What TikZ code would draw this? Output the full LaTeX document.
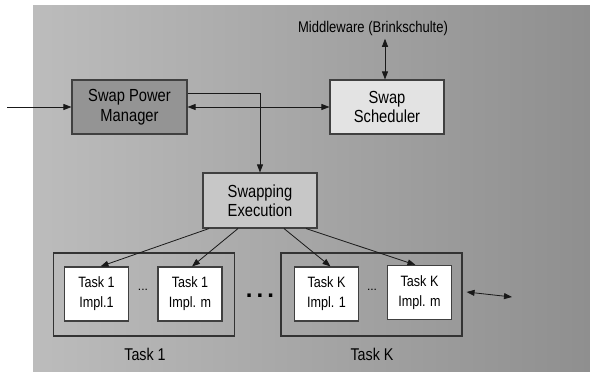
\documentclass[tikz,border=0pt]{standalone}
\usepackage{fontspec}
\setmainfont{Liberation Sans}
\newfontfamily\tallsans[FakeStretch=0.84]{Liberation Sans}
\usetikzlibrary{arrows.meta}
\tikzset{%
  tipS/.tip={Triangle[length=8pt,width=6pt]},
  blk/.style={draw=black!75, line width=1.1pt, align=center, inner sep=0pt,
    font=\tallsans\fontsize{17.5}{19.5}\selectfont},
  impl/.style={blk, fill=white, minimum width=64pt, minimum height=54pt,
    font=\tallsans\fontsize{15}{20}\selectfont},
  grp/.style={draw=black!80, line width=1.1pt, minimum width=181pt, minimum height=83pt},
  wire/.style={black!90, line width=0.8pt}
}
\definecolor{panelL}{RGB}{188,188,188}
\definecolor{panelR}{RGB}{143,143,143}

\begin{document}
\begin{tikzpicture}[x=1pt,y=-1pt]
\useasboundingbox (0,0) rectangle (590,372);
\shade[left color=panelL, right color=panelR] (33,5) rectangle (590,372);

% upper blocks
\node[blk, fill=black!42, minimum width=115pt, minimum height=54pt] (spm) at (129.5,107) {Swap Power\\Manager};
\node[blk, fill=black!11, minimum width=114pt, minimum height=54pt] (ssch) at (387,107) {Swap\\Scheduler};
\node[font=\tallsans\fontsize{15.5}{17}\selectfont] (mw) at (373,28) {Middleware (Brinkschulte)};
\node[blk, fill=black!22, minimum width=114pt, minimum height=55pt] (sexe) at (260,200.5) {Swapping\\Execution};

% task groups
\node[grp] (grp1) at (144,294.5) {};
\node[grp] (grpK) at (371.5,294.5) {};
\node[impl] (t1a) at (96.5,294) {Task 1\\Impl.1};
\node[impl] (t1m) at (190,294) {Task 1\\Impl. m};
\node[impl] (tKa) at (326.5,294) {Task K\\Impl. 1};
\node[impl] (tKm) at (419.5,292.5) {Task K\\Impl. m};
\node[font=\fontsize{12}{12}\selectfont] (dot1) at (143,290) {...};
\node[font=\fontsize{12}{12}\selectfont] (dotK) at (372,290) {...};
\node[font=\fontsize{24}{24}\bfseries] (dotmid) at (260,296) {.\,.\,.};
\node[font=\tallsans\fontsize{17}{18}\selectfont] (lab1) at (145,354) {Task 1};
\node[font=\tallsans\fontsize{17}{18}\selectfont] (labK) at (372,354) {Task K};

% connectors
\coordinate (in) at (7,107);
\coordinate (out) at (512,297);
\draw[wire, -tipS] (in) -- (spm);
\draw[wire, tipS-tipS] (spm) -- (ssch);
\draw[wire, tipS-tipS] ([xshift=-2pt]ssch.north) -- ([xshift=-2pt]ssch.north |- mw.south);
\draw[wire, -tipS] ([yshift=14pt]spm.east) -| (sexe.north);
\draw[wire, -tipS] ([xshift=-51pt]sexe.south) -- ([xshift=4pt]t1a.north);
\draw[wire, -tipS] ([xshift=-22pt]sexe.south) -- ([xshift=2pt]t1m.north);
\draw[wire, -tipS] ([xshift=24pt]sexe.south) -- ([xshift=4pt]tKa.north);
\draw[wire, -tipS] ([xshift=46pt]sexe.south) -- ([xshift=-4pt]tKm.north);
\draw[wire, tipS-tipS] ([xshift=4pt,yshift=2.5pt]grpK.east) -- (out);
\end{tikzpicture}
\end{document}
